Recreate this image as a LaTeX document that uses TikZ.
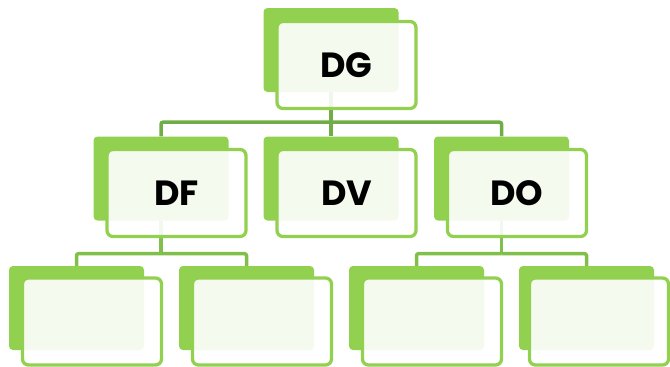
\documentclass[tikz,border=0pt]{standalone}
\usepackage{fontspec}
\setmainfont{Poppins}
\usetikzlibrary{backgrounds}
\definecolor{cardgreen}{HTML}{92D050}
\definecolor{topline}{HTML}{70AD47}
\definecolor{lowline}{HTML}{80C04A}
\tikzset{
  backcard/.style={fill=cardgreen, rounded corners=4pt, minimum width=135pt, minimum height=84pt, inner sep=0pt},
  frontcard/.style={draw=cardgreen, line width=3.3pt, fill=white, fill opacity=0.9, text opacity=1, rounded corners=6pt, minimum width=139pt, minimum height=87pt, inner sep=0pt, font=\fontsize{35}{36}\selectfont\bfseries},
  conntop/.style={draw=topline, line width=3.5pt, rounded corners=2pt},
  connlow/.style={draw=lowline, line width=3.5pt, rounded corners=2pt}
}
\begin{document}
\begin{tikzpicture}[x=1pt,y=-1pt]
\useasboundingbox (0,0) rectangle (670,367);
% level 1
\node[backcard] (DGb) at (331,50) {};
\node[frontcard] (DG) at (346.5,65) {DG};
% level 2
\node[backcard] (DFb) at (161,178.5) {};
\node[frontcard] (DF) at (176.5,193) {DF};
\node[backcard] (DVb) at (331,178.5) {};
\node[frontcard] (DV) at (346.5,193) {DV};
\node[backcard] (DOb) at (501.5,178.5) {};
\node[frontcard] (DO) at (517,193) {DO};
% level 3
\node[backcard] (L1b) at (76.5,308) {};
\node[frontcard] (L1) at (92,321.5) {};
\node[backcard] (L2b) at (246.5,308) {};
\node[frontcard] (L2) at (262,321.5) {};
\node[backcard] (L3b) at (416.5,308) {};
\node[frontcard] (L3) at (432,321.5) {};
\node[backcard] (L4b) at (586.5,308) {};
\node[frontcard] (L4) at (599,321.5) {};
\begin{scope}[on background layer]
  \coordinate (jt) at ([yshift=-30pt]DGb.south);
  \draw[conntop] (DGb.south) -- (jt);
  \draw[conntop] (jt) -| (DFb.north);
  \draw[conntop] (jt) -| (DOb.north);
  \draw[conntop] (jt) -- (DVb.north);
  \coordinate (jf) at ([yshift=-33pt]DFb.south);
  \draw[connlow] (DFb.south) -- (jf);
  \draw[connlow] (jf) -| (L1b.north);
  \draw[connlow] (jf) -| (L2b.north);
  \coordinate (jo) at ([yshift=-33pt]DOb.south);
  \draw[connlow] (DOb.south) -- (jo);
  \draw[connlow] (jo) -| (L3b.north);
  \draw[connlow] (jo) -| (L4b.north);
\end{scope}
\end{tikzpicture}
\end{document}
